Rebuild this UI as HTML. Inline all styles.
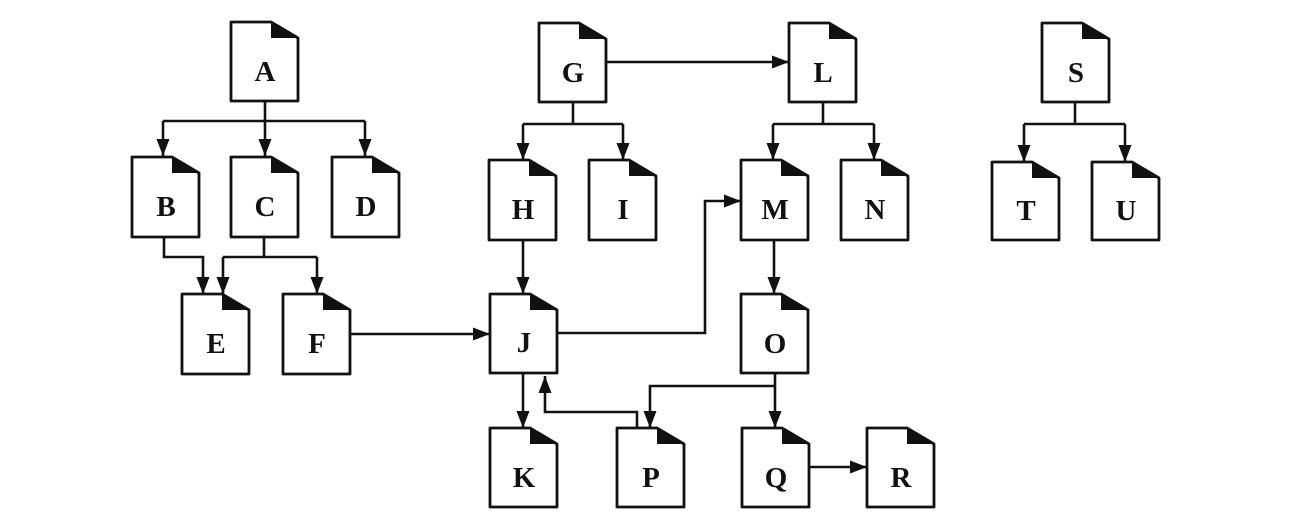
<!DOCTYPE html>
<html><head><meta charset="utf-8"><style>
html,body{margin:0;padding:0;background:#fff;}
svg{display:block;}
text{font-family:"Liberation Serif",serif;font-weight:bold;font-size:29px;fill:#111;}
</style></head><body>
<svg width="1290" height="530" viewBox="0 0 1290 530" xmlns="http://www.w3.org/2000/svg">
<defs>
<marker id="ah" markerUnits="userSpaceOnUse" markerWidth="18" markerHeight="14" refX="17" refY="6.5" orient="auto">
<path d="M0,0 L17,6.5 L0,13 Z" fill="#111"/>
</marker>
<g id="doc80">
<path d="M0,0 H40 L67,16 V80 H0 Z" fill="#fff" stroke="#111" stroke-width="2.8" stroke-linejoin="round"/>
<path d="M40,0 L67,16 H40 Z" fill="#111" stroke="none"/>
</g>
<g id="doc79">
<path d="M0,0 H40 L67,16 V79 H0 Z" fill="#fff" stroke="#111" stroke-width="2.8" stroke-linejoin="round"/>
<path d="M40,0 L67,16 H40 Z" fill="#111" stroke="none"/>
</g>
<g id="doc78">
<path d="M0,0 H40 L67,16 V78 H0 Z" fill="#fff" stroke="#111" stroke-width="2.8" stroke-linejoin="round"/>
<path d="M40,0 L67,16 H40 Z" fill="#111" stroke="none"/>
</g>
</defs>
<g fill="none" stroke="#111" stroke-width="2.6">
<path d="M265,101 V121 M163,121 H365"/>
<path d="M163,121 V156" marker-end="url(#ah)"/>
<path d="M265,121 V156" marker-end="url(#ah)"/>
<path d="M365,121 V156" marker-end="url(#ah)"/>
<path d="M164,237 V257 H203 V294" marker-end="url(#ah)"/>
<path d="M264,237 V257 M223,257 H317"/>
<path d="M223,257 V294" marker-end="url(#ah)"/>
<path d="M317,257 V294" marker-end="url(#ah)"/>
<path d="M349,334 H490" marker-end="url(#ah)"/>
<path d="M606,62 H789" marker-end="url(#ah)"/>
<path d="M573,102 V124 M523,124 H623"/>
<path d="M523,124 V160" marker-end="url(#ah)"/>
<path d="M623,124 V160" marker-end="url(#ah)"/>
<path d="M823,102 V124 M773,124 H874"/>
<path d="M773,124 V160" marker-end="url(#ah)"/>
<path d="M874,124 V160" marker-end="url(#ah)"/>
<path d="M1075,102 V124 M1024,124 H1125"/>
<path d="M1024,124 V162" marker-end="url(#ah)"/>
<path d="M1125,124 V162" marker-end="url(#ah)"/>
<path d="M523,240 V294" marker-end="url(#ah)"/>
<path d="M557,333 H705 V201 H741" marker-end="url(#ah)"/>
<path d="M774,240 V294" marker-end="url(#ah)"/>
<path d="M523,374 V428" marker-end="url(#ah)"/>
<path d="M775,373 V428" marker-end="url(#ah)"/>
<path d="M775,386 H650 V428" marker-end="url(#ah)"/>
<path d="M637,428 V412 H545 V376" marker-end="url(#ah)"/>
<path d="M808,467 H867" marker-end="url(#ah)"/>
</g>

<use href="#doc79" x="231" y="22"/>
<use href="#doc80" x="132" y="157"/>
<use href="#doc80" x="231" y="157"/>
<use href="#doc80" x="332" y="157"/>
<use href="#doc80" x="182" y="294"/>
<use href="#doc80" x="283" y="294"/>
<use href="#doc79" x="539" y="23"/>
<use href="#doc80" x="489" y="160"/>
<use href="#doc80" x="589" y="160"/>
<use href="#doc79" x="490" y="294"/>
<use href="#doc79" x="490" y="428"/>
<use href="#doc79" x="789" y="23"/>
<use href="#doc80" x="741" y="160"/>
<use href="#doc80" x="841" y="160"/>
<use href="#doc79" x="741" y="294"/>
<use href="#doc79" x="617" y="428"/>
<use href="#doc79" x="742" y="428"/>
<use href="#doc79" x="867" y="428"/>
<use href="#doc79" x="1042" y="23"/>
<use href="#doc78" x="992" y="162"/>
<use href="#doc78" x="1092" y="162"/>

<g text-anchor="middle">
<text x="265" y="81">A</text>
<text x="166" y="216">B</text>
<text x="265" y="216">C</text>
<text x="366" y="216">D</text>
<text x="216" y="353">E</text>
<text x="317" y="353">F</text>
<text x="573" y="82">G</text>
<text x="523" y="219">H</text>
<text x="623" y="219">I</text>
<text x="524" y="352">J</text>
<text x="524" y="487">K</text>
<text x="823" y="82">L</text>
<text x="775" y="219">M</text>
<text x="875" y="219">N</text>
<text x="775" y="353">O</text>
<text x="651" y="487">P</text>
<text x="776" y="487">Q</text>
<text x="901" y="487">R</text>
<text x="1076" y="82">S</text>
<text x="1026" y="220">T</text>
<text x="1126" y="220">U</text>
</g>
</svg>
</body></html>
